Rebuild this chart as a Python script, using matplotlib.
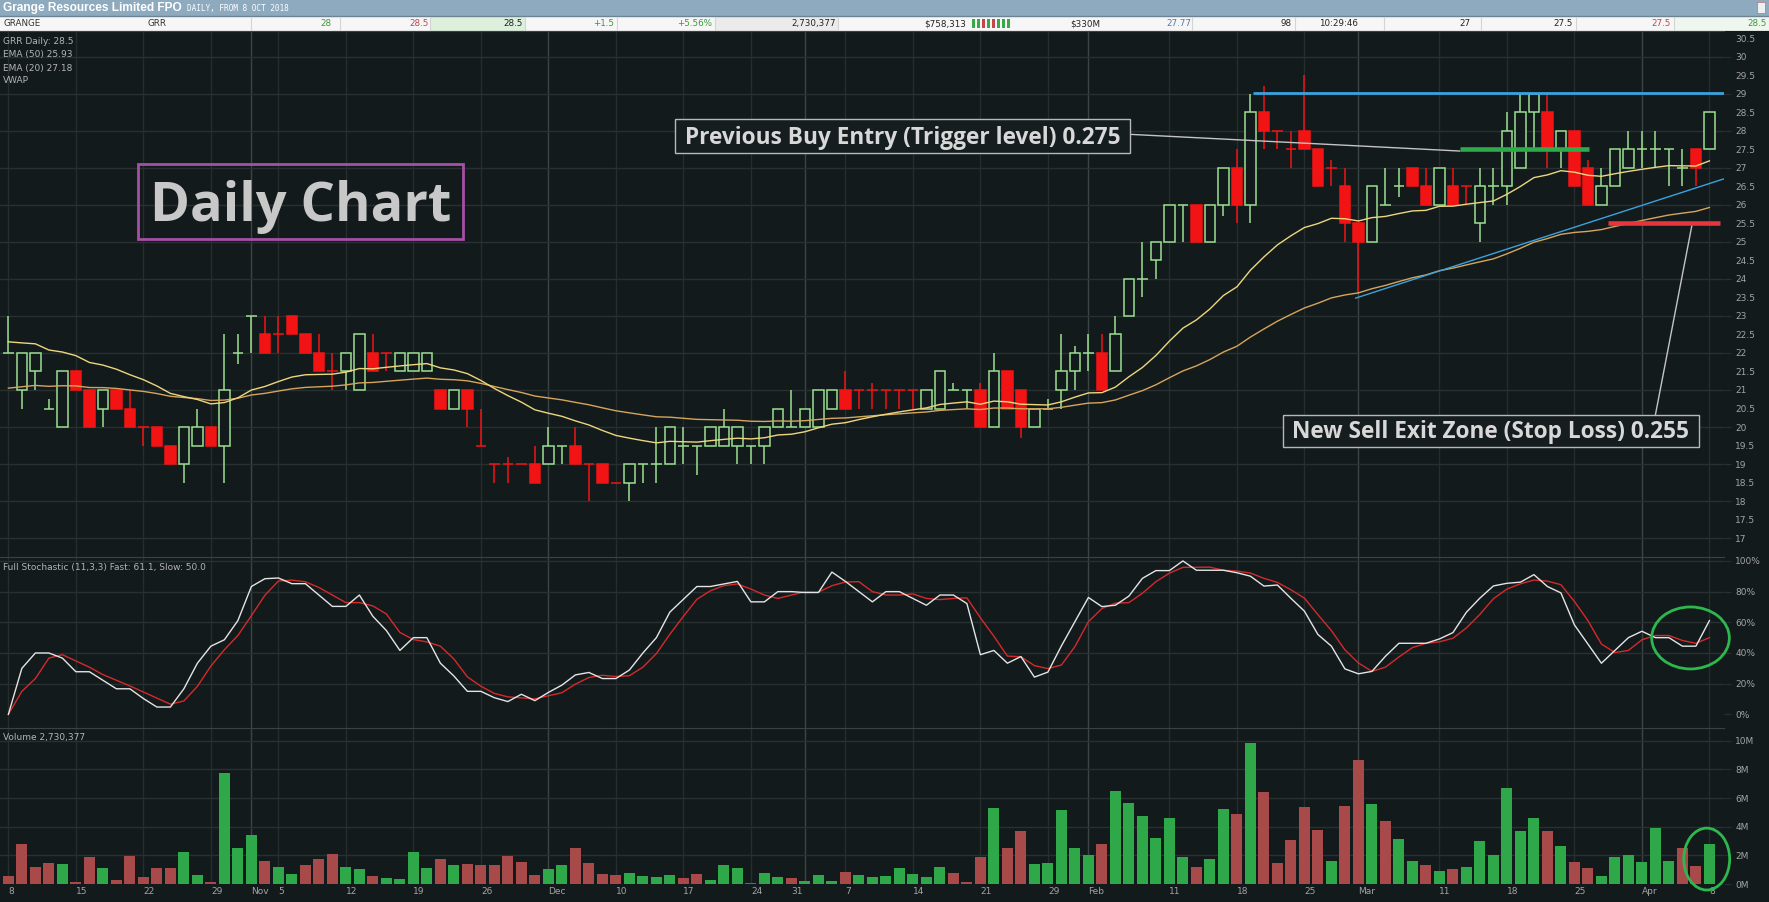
import matplotlib
matplotlib.use("Agg")
import matplotlib.pyplot as plt
import matplotlib.transforms as mtrans
from matplotlib.patches import Rectangle, Ellipse
import numpy as np
import pandas as pd

W, H = 1769, 902

# ---- daily bars, 8 Oct 2018 .. 8 Apr 2019 (prices in cents) ----
opens = [22, 21, 21.5, 20.5, 20, 21.5, 21, 20.5, 21, 20.5,
         20, 20, 19.5, 19, 19.5, 20, 19.5, 22, 23, 22.5,
         22.5, 23, 22.5, 22, 21.5, 21.5, 21, 22, 22, 21.5,
         21.5, 21.5, 21, 20.5, 21, 19.5, 19, 19, 19, 19,
         19, 19.5, 19.5, 19, 19, 18.5, 18.5, 19, 19, 19,
         19.5, 19.5, 19.5, 19.5, 19.5, 19.5, 19.5, 20, 20, 20,
         20, 20.5, 21, 21, 21, 21, 21, 21, 20.5, 20.5,
         21, 21, 21, 20, 21.5, 21, 20, 20.5, 21, 21.5,
         22, 22, 21.5, 23, 24, 24.5, 25, 26, 26, 25,
         26, 27, 26, 28.5, 28, 27.5, 28, 27.5, 27, 26.5,
         25.5, 25, 26, 26.5, 27, 26.5, 26, 26.5, 26.5, 25.5,
         26.5, 26.5, 27, 28.5, 28.5, 27.5, 28, 27, 26, 26.5,
         27, 27.5, 27.5, 27.5, 27, 27.5, 27.5]
highs = [23, 22, 22, 20.75, 21.5, 21.5, 21, 21, 21, 21,
         20, 20, 19.5, 20, 20.5, 20, 22.5, 22.5, 23, 23,
         23, 23, 22.5, 22.5, 22, 22, 22.5, 22.5, 22, 22,
         22, 22, 21, 21, 21, 20.5, 19, 19.2, 19, 19.5,
         20, 19.5, 20, 19, 19, 18.5, 19, 19, 20, 20,
         20, 19.5, 20, 20.5, 20, 19.5, 20, 20.5, 21, 20.5,
         21, 21, 21.5, 21, 21.2, 21, 21, 21, 21, 21.5,
         21.2, 21, 21.2, 22, 21.5, 21, 20.5, 20.75, 22.5, 22.2,
         22.5, 22.5, 23, 24, 25, 25, 26, 26, 26, 26,
         27, 27.5, 29, 29.2, 28, 28, 29.5, 27.5, 27.2, 27,
         25.5, 26.5, 27, 27, 27, 27, 27, 27, 26.5, 27,
         27, 28.5, 29, 29, 29, 28, 28, 27.2, 27, 27.5,
         28, 28, 28, 27.5, 27.5, 27.5, 28.5]
lows = [22, 20.5, 21, 20.5, 20, 21, 20, 20, 20.5, 20,
        19.5, 19.5, 19, 18.5, 19.5, 19.5, 18.5, 21.7, 22, 22,
        22, 22.5, 22, 21.5, 21, 21, 21, 21.5, 21.5, 21.5,
        21.5, 21.5, 20.5, 20.5, 20, 19.5, 18.5, 18.5, 19, 18.5,
        19, 19, 19, 18, 18.5, 18.5, 18, 18.5, 18.5, 19,
        19, 18.7, 19.5, 19.5, 19, 19, 19, 20, 20, 20,
        20, 20.5, 20.5, 20.5, 20.5, 20.5, 20.5, 20.5, 20.5, 20.5,
        21, 20.5, 20, 20, 20.5, 19.7, 20, 20.5, 20.5, 21,
        21.5, 21, 21.5, 23, 23.5, 24, 25, 25, 25, 25,
        25.7, 25.5, 25.5, 27.5, 27.5, 27, 27.5, 26.5, 26.5, 25,
        23.6, 25, 26, 26.2, 26.5, 26, 26, 26, 26, 25,
        26, 26, 27, 27.5, 27, 27, 26.5, 26, 26, 26.5,
        27, 27, 27, 26.5, 26.5, 26.5, 27.5]
closes = [22, 22, 22, 20.5, 21.5, 21, 20, 21, 20.5, 20,
          20, 19.5, 19, 20, 20, 19.5, 21, 22, 23, 22,
          22.5, 22.5, 22, 21.5, 21.5, 22, 22.5, 21.5, 22, 22,
          22, 22, 20.5, 21, 20.5, 19.5, 19, 19, 19, 18.5,
          19.5, 19.5, 19, 19, 18.5, 18.5, 19, 19, 19, 20,
          19.5, 19.5, 20, 20, 20, 19.5, 20, 20.5, 20, 20.5,
          21, 21, 20.5, 21, 21, 21, 21, 21, 21, 21.5,
          21, 21, 20, 21.5, 20.5, 20, 20.5, 20.5, 21.5, 22,
          22, 21, 22.5, 24, 24, 25, 26, 26, 25, 26,
          27, 26, 28.5, 28, 28, 27.5, 27.5, 26.5, 27, 25.5,
          25, 26.5, 26, 26.5, 26.5, 26, 27, 26, 26.5, 26.5,
          26.5, 28, 28.5, 29, 27.5, 28, 26.5, 26, 26.5, 27.5,
          27.5, 27.5, 27.5, 27.5, 27, 27, 28.5]
# g = hollow green (up) candle, r = filled red (down) candle
candle_dir = ("ggggg rrgrr rrrgg rgggr rrrrr ggrrg ggrgr rrrrr "
              "ggrrr rgggg ggggg ggggg ggrrr rrrgg ggrgr rgggg "
              "grggg gggrg grgrr rrrrr rgggr rgrrg ggggr grrgg "
              "ggggg rg").replace(" ", "")
# volume in millions of shares
volumes = [0.58, 2.76, 1.17, 1.50, 1.43, 0.16, 1.87, 1.14, 0.30, 1.92,
           0.51, 1.14, 1.14, 2.20, 0.65, 0.16, 7.76, 2.48, 3.39, 1.64,
           1.21, 0.72, 1.31, 1.78, 2.06, 1.21, 1.03, 0.58, 0.44, 0.37,
           2.20, 1.14, 1.73, 1.36, 1.43, 1.31, 1.36, 1.92, 1.57, 0.65,
           1.03, 1.36, 2.48, 1.50, 0.72, 0.65, 0.79, 0.58, 0.51, 0.65,
           0.44, 0.72, 0.30, 1.36, 1.14, 0.09, 0.79, 0.51, 0.44, 0.23,
           0.65, 0.23, 0.86, 0.65, 0.51, 0.58, 1.14, 0.72, 0.51, 1.21,
           0.79, 0.16, 1.87, 5.33, 2.48, 3.67, 1.43, 1.50, 5.14, 2.48,
           1.99, 2.76, 6.47, 5.63, 4.72, 3.20, 4.63, 1.87, 1.17, 1.78,
           5.21, 4.86, 9.84, 6.40, 1.50, 3.04, 5.35, 3.74, 1.64, 5.42,
           8.64, 5.56, 4.37, 3.11, 1.64, 1.36, 0.93, 1.07, 1.21, 2.97,
           1.99, 6.68, 3.67, 4.58, 3.67, 2.62, 1.57, 1.14, 0.58, 1.85,
           1.99, 1.57, 3.88, 1.64, 2.48, 1.28, 2.76]
vol_dir = ("rrrrg rrgrr rrrgg rgggr ggrrr ggrgg ggrgr rrrrr "
           "ggrrr rgggg rrggg rggrg ggrgg ggggg rrrgr rgggg "
           "grggg gggrg grgrr rrrgr rgrgg rgrgg ggggr grrgg "
           "ggggr rg").replace(" ", "")

tick_pos = [0, 5, 10, 15, 18, 20, 25, 30, 35, 40, 45, 50, 55, 58, 62, 67,
            72, 77, 80, 86, 91, 96, 100, 106, 111, 116, 121, 126]
tick_lab = ["8", "15", "22", "29", "Nov", "5", "12", "19", "26", "Dec", "10",
            "17", "24", "31", "7", "14", "21", "29", "Feb", "11", "18", "25",
            "Mar", "11", "18", "25", "Apr", "8"]
month_pos = [18, 40, 59, 80, 100, 121]

# EMA values at the first bar
ema20_start, ema50_start = 22.3, 21.05

BG = "#131a1c"
GRID = "#283032"
VGRID = "#252d2f"
MGRID = "#3c4446"
LAB = "#a4a4a4"
GREEN_C = "#9be08f"
RED_C = "#f21414"
VOL_G = "#2fa84a"
VOL_R = "#a84a4a"
ANNO_FONT = ["Open Sans", "DejaVu Sans"]

O = np.array(opens, float)
Hh = np.array(highs, float)
L = np.array(lows, float)
C = np.array(closes, float)
n = len(C)
x = np.arange(n)


def ema(vals, span, seed):
    k = 2.0 / (span + 1)
    out = [seed]
    for v in vals[1:]:
        out.append(out[-1] + k * (v - out[-1]))
    return np.array(out)


ema20 = ema(C, 20, ema20_start)
ema50 = ema(C, 50, ema50_start)

# full stochastic (11,3,3)
df = pd.DataFrame({"h": Hh, "l": L, "c": C})
hh = df.h.rolling(11, min_periods=1).max()
ll = df.l.rolling(11, min_periods=1).min()
raw = 100 * (df.c - ll) / (hh - ll)
fast = raw.rolling(3, min_periods=1).mean()
slow = fast.rolling(3, min_periods=1).mean()

fig = plt.figure(figsize=(W / 100, H / 100), dpi=100, facecolor=BG)

right = 1724 / W
ax_p = fig.add_axes([0, 1 - 556.5 / H, right, (556.5 - 31) / H])
ax_s = fig.add_axes([0, 1 - 728 / H, right, (728 - 556.5) / H])
ax_v = fig.add_axes([0, 1 - 884 / H, right, (884 - 728) / H])

for ax in (ax_p, ax_s, ax_v):
    ax.set_facecolor(BG)
    ax.set_xlim(-0.62, 127.08)
    for s in ("left", "right", "bottom"):
        ax.spines[s].set_visible(False)
    ax.spines["top"].set_color("#3a4244")
    ax.yaxis.tick_right()
    for p in tick_pos:
        if p in month_pos or p == 58:
            continue
        ax.axvline(p, color=VGRID, lw=1, zorder=0)
    for p in month_pos:
        ax.axvline(p, color=MGRID, lw=1, zorder=0)

# ---- price panel ----
ax_p.set_ylim(16.505, 30.69)
for v in range(17, 31):
    ax_p.axhline(v, color=GRID, lw=1, zorder=0)
ax_p.set_yticks(np.arange(17, 30.6, 1))
ax_p.set_yticks(np.arange(17.5, 30.6, 1), minor=True)
ax_p.set_yticklabels([f"{v:g}" for v in np.arange(17, 30.6, 1)])
ax_p.set_yticklabels([f"{v:g}" for v in np.arange(17.5, 30.6, 1)], minor=True)
ax_p.set_xticks([])

up = np.array([d == "g" for d in candle_dir])
col = np.where(up, GREEN_C, RED_C)
ax_p.vlines(x, L, Hh, colors=col, lw=1.1, zorder=2)
body = np.abs(C - O)
bot = np.minimum(O, C)
nz = body > 0
ax_p.bar(x[nz], body[nz], bottom=bot[nz], width=0.78,
         color=np.where(up[nz], BG, RED_C), edgecolor=col[nz],
         linewidth=1.1, zorder=3)
ax_p.hlines(O[~nz], x[~nz] - 0.39, x[~nz] + 0.39, colors=col[~nz],
            lw=1.1, zorder=3)

ax_p.plot(x, ema50, color="#d6a55c", lw=1, zorder=4)
ax_p.plot(x, ema20, color="#ecd77e", lw=1, zorder=4)

# drawn annotations
ax_p.hlines(29.02, 92.2, 127.08, color="#3aa2dc", lw=2, zorder=5)
ax_p.plot([99.8, 127.08], [23.48, 26.70], color="#3aa2dc", lw=1, zorder=5)
ax_p.hlines(27.5, 107.5, 117.1, color="#2eaa4a", lw=3.3, zorder=6)
ax_p.hlines(25.5, 118.5, 126.8, color="#e8343c", lw=3.3, zorder=6)
ax_p.plot([83.1, 107.5], [27.9, 27.45], color="#c4c4c4", lw=1, zorder=5)
ax_p.plot([124.7, 122.0], [25.44, 20.33], color="#c4c4c4", lw=1, zorder=5)

ax_p.add_patch(Rectangle((49.4, 27.39), 33.7, 0.92, fc="#161d1f",
                         ec="#b8b8b8", lw=1, zorder=7))
ax_p.text(66.25, 27.63, "Previous Buy Entry (Trigger level) 0.275",
          ha="center", va="baseline", fontsize=16.3, fontweight="bold",
          family=ANNO_FONT, color="#d8d8d8", zorder=8)
ax_p.add_patch(Rectangle((94.4, 19.46), 30.8, 0.87, fc="#161d1f",
                         ec="#b8b8b8", lw=1, zorder=7))
ax_p.text(109.8, 19.70, "New Sell Exit Zone (Stop Loss) 0.255",
          ha="center", va="baseline", fontsize=16.3, fontweight="bold",
          family=ANNO_FONT, color="#d8d8d8", zorder=8)
ax_p.add_patch(Rectangle((9.6, 25.07), 24.1, 2.03, fc="none",
                         ec="#a550a5", lw=2, zorder=7))
ax_p.text(21.65, 25.57, "Daily Chart", ha="center", va="baseline",
          fontsize=39, fontweight="bold", family=ANNO_FONT, color="#c8c8c8",
          zorder=8)

# ---- stochastic panel ----
ax_s.set_ylim(-8.9, 102.9)
for v in range(20, 101, 20):
    ax_s.axhline(v, color=GRID, lw=1, zorder=0)
ax_s.set_yticks(range(0, 101, 20))
ax_s.set_yticklabels([f"{v}%" for v in range(0, 101, 20)])
ax_s.set_xticks([])
ax_s.plot(x, slow, color="#d42a2a", lw=1, zorder=3)
ax_s.plot(x, fast, color="#e4e4e4", lw=1, zorder=4)
ax_s.add_patch(Ellipse((124.6, 49.8), 5.75, 40.4, fc="none", ec="#2db84d",
                       lw=2, clip_on=False, zorder=5))

# ---- volume panel ----
ax_v.set_ylim(0, 10.89)
for v in range(2, 11, 2):
    ax_v.axhline(v, color=GRID, lw=1, zorder=0)
ax_v.set_yticks(range(0, 11, 2))
ax_v.set_yticklabels([f"{v}M" for v in range(0, 11, 2)])
vcol = [VOL_G if d == "g" else VOL_R for d in vol_dir]
ax_v.bar(x, volumes, width=0.82, color=vcol, zorder=3)
ax_v.add_patch(Ellipse((125.8, 1.74), 3.4, 4.32, fc="none", ec="#2db84d",
                       lw=2, clip_on=False, zorder=5))
ax_v.set_xticks(tick_pos)
ax_v.set_xticklabels(tick_lab)
off = mtrans.ScaledTranslation(2 / 72, 0, fig.dpi_scale_trans)
for t in ax_v.get_xticklabels():
    t.set_horizontalalignment("left")
    t.set_transform(t.get_transform() + off)

for ax in (ax_p, ax_s, ax_v):
    ax.tick_params(axis="y", which="major", length=5, color=GRID, pad=3,
                   labelsize=6.5, labelcolor=LAB)
    ax.tick_params(axis="y", which="minor", length=0, pad=8,
                   labelsize=6.5, labelcolor=LAB)
    ax.tick_params(axis="x", length=0, pad=2, labelsize=6.5, labelcolor=LAB)

# ---- panel captions ----
cap = dict(fontsize=6.5, color="#b4b4b4", va="center", ha="left")
for yy, s in [(41.7, "GRR Daily: 28.5"), (55, "EMA (50) 25.93"),
              (68.3, "EMA (20) 27.18"), (80.7, "VWAP")]:
    fig.text(3 / W, 1 - yy / H, s, **cap)
fig.text(3 / W, 1 - 567.7 / H,
         "Full Stochastic (11,3,3) Fast: 61.1, Slow: 50.0", **cap)
fig.text(3 / W, 1 - 737.3 / H, "Volume 2,730,377", **cap)

# ---- quote header ----
hd = fig.add_axes([0, 1 - 31 / H, 1, 31 / H])
hd.set_xlim(0, W)
hd.set_ylim(31, 0)
hd.axis("off")
hd.add_patch(Rectangle((0, 0), W, 16, fc="#8eaabf", ec="none"))
hd.add_patch(Rectangle((0, 16), W, 15, fc="#f6f6f6", ec="none"))
hd.add_patch(Rectangle((430, 16), 95, 14.5, fc="#dcf0dc", ec="none"))
hd.add_patch(Rectangle((715, 16), 123, 14.5, fc="#ebebeb", ec="none"))
hd.add_patch(Rectangle((1674, 16), 95, 14.5, fc="#eef6ee", ec="none"))
hd.axhline(16, color="#6d8495", lw=1)
hd.axhline(30.5, color="#9a9a9a", lw=1)
for sx in [251, 340, 430, 525, 617, 715, 838, 1192, 1295, 1384, 1481,
           1576, 1674]:
    hd.vlines(sx, 16.5, 30.5, color="#d4d4d4", lw=0.8)
hd.text(3, 8.5, "Grange Resources Limited FPO", fontsize=8.6,
        fontweight="bold", family="Liberation Sans", color="white",
        va="center")
hd.text(187, 9, "DAILY, FROM 8 OCT 2018", fontsize=5.6, color="white",
        family="DejaVu Sans Mono", va="center")
hd.add_patch(Rectangle((1757, 2), 8, 11, fc="#f0f0f0", ec="#c08080",
                       lw=0.6))
row = [(3, "GRANGE", "#333333", "left"), (148, "GRR", "#333333", "left"),
       (332, "28", "#3a9a3a", "right"), (429, "28.5", "#c04848", "right"),
       (523, "28.5", "#222222", "right"), (614, "+1.5", "#3a9a3a", "right"),
       (712, "+5.56%", "#3a9a3a", "right"),
       (836, "2,730,377", "#222222", "right"),
       (924, "$758,313", "#222222", "left"),
       (1070, "$330M", "#222222", "left"),
       (1191, "27.77", "#5a78a8", "right"), (1292, "98", "#222222", "right"),
       (1319, "10:29:46", "#222222", "left"),
       (1471, "27", "#222222", "right"), (1573, "27.5", "#222222", "right"),
       (1671, "27.5", "#c04848", "right"), (1767, "28.5", "#3a9a3a", "right")]
for xx, s, c, ha in row:
    hd.text(xx, 23.5, s, fontsize=6.3, color=c, ha=ha, va="center")
trade_dir = "ggrgrggg"
for i, d in enumerate(trade_dir):
    hd.add_patch(Rectangle((972 + i * 5, 19), 3, 9,
                           fc="#3aa84a" if d == "g" else "#c04848",
                           ec="none"))

fig.savefig("out.png", dpi=100, facecolor=BG)
